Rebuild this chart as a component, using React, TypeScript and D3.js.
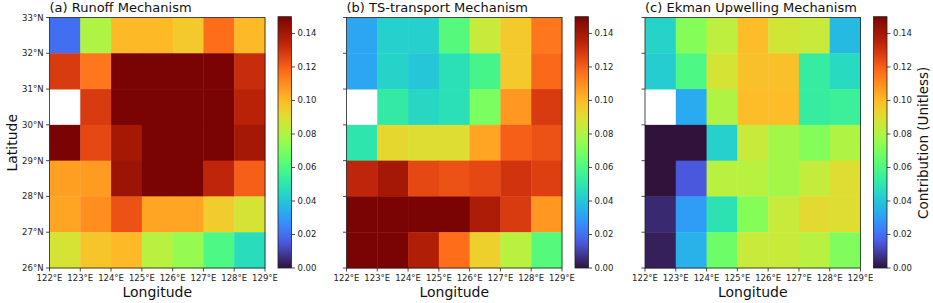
import { useEffect, useRef } from 'react';
import * as d3 from 'd3';

const lons = [122, 123, 124, 125, 126, 127, 128, 129];
const lats = [26, 27, 28, 29, 30, 31, 32, 33];
const cbTicks = [0, 0.02, 0.04, 0.06, 0.08, 0.1, 0.12, 0.14];

// rows go from north (32-33N) to south (26-27N), columns 122E -> 128E
const runoff: (number | null)[][] = [
  [0.02, 0.08, 0.1, 0.1, 0.096, 0.117, 0.1],
  [0.128, 0.115, 0.16, 0.16, 0.16, 0.16, 0.132],
  [null, 0.128, 0.16, 0.16, 0.16, 0.16, 0.135],
  [0.155, 0.125, 0.14, 0.16, 0.16, 0.16, 0.14],
  [0.106, 0.107, 0.142, 0.16, 0.16, 0.134, 0.12],
  [0.105, 0.11, 0.123, 0.105, 0.105, 0.095, 0.088],
  [0.088, 0.097, 0.1, 0.082, 0.075, 0.06, 0.047],
];

const tsTransport: (number | null)[][] = [
  [0.032, 0.043, 0.043, 0.062, 0.085, 0.096, 0.115],
  [0.032, 0.044, 0.04, 0.048, 0.058, 0.096, 0.118],
  [null, 0.052, 0.045, 0.048, 0.07, 0.108, 0.128],
  [0.05, 0.092, 0.09, 0.09, 0.105, 0.12, 0.123],
  [0.134, 0.14, 0.125, 0.123, 0.125, 0.13, 0.127],
  [0.16, 0.16, 0.155, 0.16, 0.138, 0.128, 0.108],
  [0.16, 0.16, 0.137, 0.117, 0.094, 0.082, 0.062],
];

const ekman: (number | null)[][] = [
  [0.044, 0.072, 0.083, 0.099, 0.087, 0.085, 0.037],
  [0.042, 0.06, 0.088, 0.098, 0.098, 0.053, 0.046],
  [null, 0.033, 0.08, 0.099, 0.099, 0.053, 0.055],
  [0, 0, 0.043, 0.085, 0.078, 0.072, 0.08],
  [0, 0.015, 0.082, 0.082, 0.078, 0.084, 0.09],
  [0.005, 0.03, 0.049, 0.072, 0.085, 0.091, 0.09],
  [0.003, 0.035, 0.067, 0.085, 0.085, 0.082, 0.071],
];

const panels = [
  { title: '(a) Runoff Mechanism', data: runoff, left: 49.5, showLat: true, cbLabel: '' },
  { title: '(b) TS-transport Mechanism', data: tsTransport, left: 346.5, showLat: false, cbLabel: '' },
  { title: '(c) Ekman Upwelling Mechanism', data: ekman, left: 645, showLat: false, cbLabel: 'Contribution (Unitless)' },
];

const W = 933;
const H = 303;
const FONT = 'DejaVu Sans, sans-serif';

// d3's turbo is a polynomial fit; pull the ends toward matplotlib's table
function turbo(t: number) {
  t = Math.max(0, Math.min(1, t));
  if (t < 0.1) return d3.interpolateRgb('rgb(48,18,59)', d3.interpolateTurbo(0.1))(t / 0.1);
  if (t > 0.9) return d3.interpolateRgb(d3.interpolateTurbo(0.9), 'rgb(122,4,3)')((t - 0.9) / 0.1);
  return d3.interpolateTurbo(t);
}

export default function App() {
  const ref = useRef<SVGSVGElement>(null);

  useEffect(() => {
    if (!ref.current) return;
    const svg = d3.select(ref.current);
    svg.selectAll('*').remove();

    const top = 17.5;
    const bottom = 268;
    const pw = 215.5;
    const vmax = 0.15;
    const color = (v: number) => turbo(v / vmax);

    const defs = svg.append('defs');
    const grad = defs.append('linearGradient')
      .attr('id', 'turbo-grad')
      .attr('x1', 0).attr('y1', 1).attr('x2', 0).attr('y2', 0);
    d3.range(0, 1.0001, 0.02).forEach(t => {
      grad.append('stop').attr('offset', t).attr('stop-color', turbo(t));
    });

    panels.forEach(p => {
      const x = d3.scaleLinear().domain([122, 129]).range([p.left, p.left + pw]);
      const y = d3.scaleLinear().domain([26, 33]).range([bottom, top]);
      const g = svg.append('g');

      // cells
      p.data.forEach((row, ri) => {
        row.forEach((v, ci) => {
          if (v === null) return;
          const lat0 = 33 - ri;
          const lon0 = lons[ci];
          g.append('rect')
            .attr('x', x(lon0))
            .attr('y', y(lat0))
            .attr('width', x(lon0 + 1) - x(lon0) + 0.4)
            .attr('height', y(lat0 - 1) - y(lat0) + 0.4)
            .attr('fill', color(v));
        });
      });

      // frame
      g.append('rect')
        .attr('x', p.left).attr('y', top)
        .attr('width', pw).attr('height', bottom - top)
        .attr('fill', 'none').attr('stroke', '#222').attr('stroke-width', 0.8);

      // x ticks
      lons.forEach(lon => {
        g.append('line')
          .attr('x1', x(lon)).attr('x2', x(lon))
          .attr('y1', bottom).attr('y2', bottom + 3.5)
          .attr('stroke', '#222').attr('stroke-width', 0.8);
        g.append('text')
          .attr('x', x(lon)).attr('y', bottom + 13)
          .attr('text-anchor', 'middle')
          .attr('font-family', FONT).attr('font-size', 8.5).attr('fill', '#222')
          .text(`${lon}°E`);
      });

      // y ticks
      lats.forEach(lat => {
        g.append('line')
          .attr('x1', p.left - 3.5).attr('x2', p.left)
          .attr('y1', y(lat)).attr('y2', y(lat))
          .attr('stroke', '#222').attr('stroke-width', 0.8);
        if (p.showLat) {
          g.append('text')
            .attr('x', p.left - 6).attr('y', y(lat))
            .attr('text-anchor', 'end').attr('dominant-baseline', 'central')
            .attr('font-family', FONT).attr('font-size', 8.5).attr('fill', '#222')
            .text(`${lat}°N`);
        }
      });

      g.append('text')
        .attr('x', p.left).attr('y', 12)
        .attr('font-family', FONT).attr('font-size', 13).attr('fill', '#111')
        .text(p.title);

      g.append('text')
        .attr('x', p.left + pw / 2).attr('y', 297)
        .attr('text-anchor', 'middle')
        .attr('font-family', FONT).attr('font-size', 14).attr('fill', '#111')
        .text('Longitude');

      if (p.showLat) {
        g.append('text')
          .attr('transform', `translate(17,${(top + bottom) / 2}) rotate(-90)`)
          .attr('text-anchor', 'middle')
          .attr('font-family', FONT).attr('font-size', 14).attr('fill', '#111')
          .text('Latitude');
      }

      // colorbar
      const cbx = p.left + pw + 13;
      const cbw = 13.5;
      const cy = d3.scaleLinear().domain([0, vmax]).range([bottom, top - 0.8]);
      g.append('rect')
        .attr('x', cbx).attr('y', cy(vmax))
        .attr('width', cbw).attr('height', cy(0) - cy(vmax))
        .attr('fill', 'url(#turbo-grad)')
        .attr('stroke', '#222').attr('stroke-width', 0.8);
      cbTicks.forEach(t => {
        g.append('line')
          .attr('x1', cbx + cbw).attr('x2', cbx + cbw + 3.5)
          .attr('y1', cy(t)).attr('y2', cy(t))
          .attr('stroke', '#222').attr('stroke-width', 0.8);
        g.append('text')
          .attr('x', cbx + cbw + 6).attr('y', cy(t))
          .attr('dominant-baseline', 'central')
          .attr('font-family', FONT).attr('font-size', 8.5).attr('fill', '#222')
          .text(d3.format('.2f')(t));
      });
      if (p.cbLabel) {
        g.append('text')
          .attr('transform', `translate(928,${(top + bottom) / 2}) rotate(-90)`)
          .attr('text-anchor', 'middle')
          .attr('font-family', FONT).attr('font-size', 13.5).attr('fill', '#111')
          .text(p.cbLabel);
      }
    });
  }, []);

  return (
    <svg
      ref={ref}
      width={W}
      height={H}
      style={{ position: 'absolute', left: 0, top: 0, background: '#fff' }}
    />
  );
}
